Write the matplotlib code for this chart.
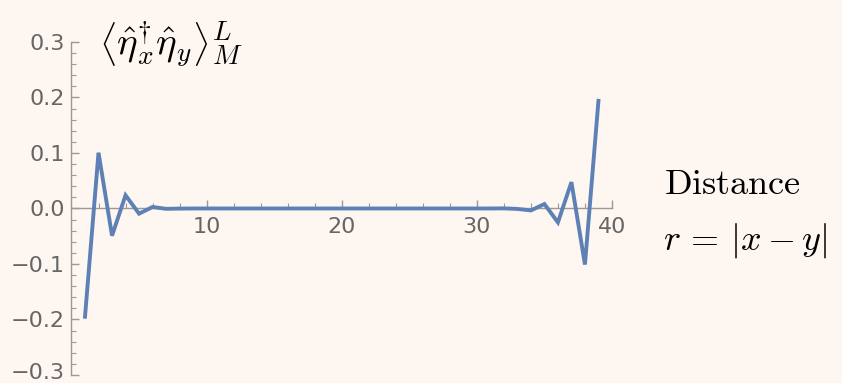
import matplotlib
matplotlib.use("Agg")
import matplotlib.pyplot as plt
import matplotlib.transforms as mtransforms
import numpy as np
from matplotlib.ticker import MultipleLocator

plt.rcParams["mathtext.fontset"] = "cm"

# correlation <eta_x^dagger eta_y> as a function of distance r = |x - y|
distance = list(range(1, 40))
correlation = [
    -0.195, 0.1005, -0.049, 0.0238, -0.0093, 0.0027, -0.0006, -0.0002,
    0.0, 0.0, 0.0, 0.0, 0.0, 0.0, 0.0, 0.0, 0.0, 0.0, 0.0, 0.0,
    0.0, 0.0, 0.0, 0.0, 0.0, 0.0, 0.0, 0.0, 0.0, 0.0, 0.0, 0.0002,
    -0.0008, -0.0035, 0.0080, -0.0250, 0.0475, -0.1010, 0.1940,
]

x_ticks = [10, 20, 30, 40]
y_ticks = [-0.3, -0.2, -0.1, 0.0, 0.1, 0.2, 0.3]
y_labels = ["\u22120.3", "\u22120.2", "\u22120.1", "0.0", "0.1", "0.2", "0.3"]

bg = "#fdf6f1"
axis_color = "#9a9a9a"
label_color = "#666666"
line_color = "#5e81b5"

fig = plt.figure(figsize=(8.42, 3.83), dpi=100, facecolor=bg)
ax = fig.add_axes([0.0849, 0.0209, 0.6419, 0.8695])
ax.set_facecolor(bg)
ax.patch.set_alpha(0)

ax.plot(distance, correlation, color=line_color, lw=2.8, solid_joinstyle="miter",
        zorder=3, clip_on=False)

ax.set_xlim(0, 40)
ax.set_ylim(-0.3, 0.3)

for side in ("top", "right"):
    ax.spines[side].set_visible(False)
ax.spines["left"].set_position(("data", 0))
ax.spines["bottom"].set_position(("data", 0))
ax.spines["left"].set_bounds(-0.3, 0.3)
ax.spines["bottom"].set_bounds(0, 40)
for side in ("left", "bottom"):
    ax.spines[side].set_color(axis_color)
    ax.spines[side].set_linewidth(1.0)

ax.set_xticks(x_ticks)
ax.set_xticklabels([str(t) for t in x_ticks])
ax.xaxis.set_minor_locator(MultipleLocator(2))
ax.set_yticks(y_ticks)
ax.set_yticklabels(y_labels)
ax.yaxis.set_minor_locator(MultipleLocator(0.02))

ax.tick_params(axis="both", which="major", direction="in", length=6, width=1.0,
               color=axis_color, labelcolor=label_color, labelsize=16)
ax.tick_params(axis="both", which="minor", direction="in", length=3.5, width=0.8,
               color=axis_color)
ax.tick_params(axis="x", which="major", pad=6)
ax.tick_params(axis="y", which="major", pad=5)

# nudge the lowest tick label up so it stays inside the canvas
lowest = ax.get_yticklabels()[0]
lowest.set_transform(lowest.get_transform()
                     + mtransforms.ScaledTranslation(0, 4 / 100, fig.dpi_scale_trans))

fig.text(0.117, 0.885,
         r"$\left\langle \hat{\eta}_x^{\dagger}\hat{\eta}_y \right\rangle_M^L$",
         fontsize=28, color="black", va="center", ha="left")
fig.text(0.789, 0.52, r"$\mathrm{Distance}$", fontsize=26, color="black",
         va="center", ha="left")
fig.text(0.787, 0.372, r"$r \,=\, |x - y|$", fontsize=26, color="black",
         va="center", ha="left")

fig.savefig("out.png", dpi=100, facecolor=bg)
